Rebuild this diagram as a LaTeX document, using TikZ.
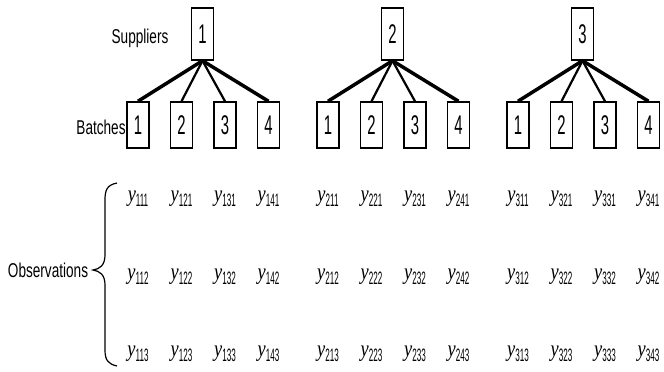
\documentclass[tikz,border=0pt]{standalone}
\usepackage{fontspec}
\setmainfont{Liberation Sans}
\newfontfamily\yfont{Liberation Serif}
\newcommand\dig[1]{\scalebox{0.55}[1]{\fontsize{27}{27}\selectfont #1}}
\newcommand\lbl[1]{\scalebox{0.68}[1]{\fontsize{20}{20}\selectfont #1}}
\newcommand\obsv[1]{{\yfont\itshape\fontsize{23}{23}\selectfont\scalebox{0.8}[1]{y}}\raisebox{-4.5pt}{\scalebox{0.45}[1]{\fontsize{18}{18}\selectfont #1}}}
\tikzset{
  box/.style={draw, line width=1.5pt, minimum width=22pt, minimum height=46pt, inner sep=0pt},
  supbox/.style={box, minimum height=52pt},
  edgeo/.style={line width=3.5pt},
  edgei/.style={line width=2.2pt},
  brace/.style={line width=1.2pt}
}
\begin{document}
\begin{tikzpicture}[x=1pt,y=-1pt]
\useasboundingbox (0,0) rectangle (664,372);
\node (lsup) at (140,38) {\lbl{Suppliers}};
\node (lbat) at (101,127) {\lbl{Batches}};
\node (lobs) at (48,270) {\lbl{Observations}};
\foreach \i in {1,2,3}{
  \pgfmathsetmacro\gx{138+190*(\i-1)}
  \node[supbox] (s\i) at (\gx+64.5,34) {\dig{\i}};
  \foreach \j in {1,2,3,4}{
    \pgfmathsetmacro\bx{\gx+43.5*(\j-1)}
    \node[box] (b\i\j) at (\bx,125) {\dig{\j}};
    \foreach \k/\ry in {1/199,2/277,3/354}{
      \node (o\i\j\k) at (\bx,\ry) {\obsv{\i\j\k}};
    }
  }
  \draw[edgeo] (s\i.south) -- (b\i1.north);
  \draw[edgei] (s\i.south) -- (b\i2.north);
  \draw[edgei] (s\i.south) -- (b\i3.north);
  \draw[edgeo] (s\i.south) -- (b\i4.north);
}
\coordinate (bt) at (117,183);
\coordinate (bm) at (93,270);
\coordinate (bb) at (117,366);
\draw[brace] (bt) .. controls (107,185) and (105,190) .. (105,200) -- (105,255)
  .. controls (105,265) and (100,269) .. (bm)
  .. controls (100,271) and (105,275) .. (105,285) -- (105,350)
  .. controls (105,360) and (108,364) .. (bb);
\end{tikzpicture}
\end{document}
